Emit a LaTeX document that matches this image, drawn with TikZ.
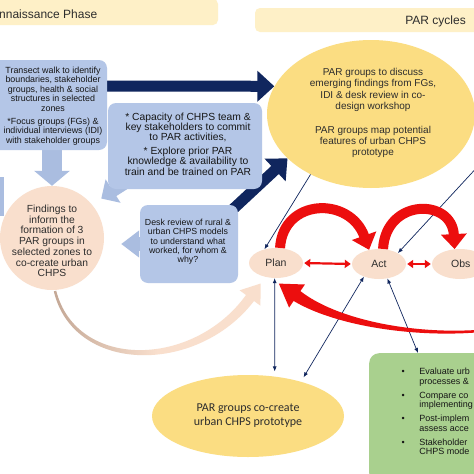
\documentclass[tikz,border=0pt]{standalone}
\usepackage{fontspec}
\setmainfont{Liberation Sans}
\newfontfamily\calib{Carlito}
\usetikzlibrary{arrows.meta,shapes.geometric,backgrounds}
\definecolor{bannerc}{RGB}{254,240,199}
\definecolor{boxblue}{RGB}{180,198,231}
\definecolor{arrblue}{RGB}{170,189,224}
\definecolor{navyc}{RGB}{16,38,94}
\definecolor{peachc}{RGB}{249,223,205}
\definecolor{peachdark}{RGB}{196,168,150}
\definecolor{yellc}{RGB}{251,221,130}
\definecolor{greenc}{RGB}{169,208,142}
\definecolor{redc}{RGB}{236,14,14}
\definecolor{txtc}{RGB}{22,22,22}
\definecolor{graytxt}{RGB}{45,45,45}
\begin{document}
\begin{tikzpicture}[x=1pt,y=-1pt,
  bluebox/.style={fill=boxblue, rounded corners=8pt, inner sep=0pt},
  bluetext/.style={align=center, inner sep=0pt, text=txtc, font=\fontsize{8.8}{9.3}\selectfont},
  peachell/.style={ellipse, fill=peachc, inner sep=0pt, text=graytxt, font=\fontsize{10.5}{12}\selectfont},
  navythick/.style={navyc, line width=11pt, -{Triangle[length=17pt,width=30pt]}},
  navythin/.style={navyc, line width=0.7pt},
  redarc/.style={redc, line width=10pt, -{Triangle[length=15pt,width=25pt]}},
  reddbl/.style={redc, line width=2.2pt, {Triangle[length=6pt,width=8pt]}-{Triangle[length=6pt,width=8pt]}, shorten <=1pt, shorten >=1pt}
]
\useasboundingbox (0,0) rectangle (474,474);
\clip (0,0) rectangle (474,474);

% banners
\node[fill=bannerc, rounded corners=5pt, minimum width=240pt, minimum height=26pt, inner sep=0pt] (ban1) at (98,12) {};
\node[anchor=west, inner sep=0pt, text=graytxt, font=\fontsize{12}{14}\selectfont] (ban1t) at (-1,14) {nnaissance Phase};
\node[fill=bannerc, rounded corners=5pt, minimum width=230pt, minimum height=24pt, inner sep=0pt] (ban2) at (370,20) {};
\node[anchor=east, inner sep=0pt, text=graytxt, font=\fontsize{12}{14}\selectfont] (ban2t) at (466,21) {PAR cycles};

% blue boxes
\node[bluebox, minimum width=117pt, minimum height=90pt] (box1) at (48.5,105) {};
\node[bluetext, font=\fontsize{8.9}{9.5}\selectfont] (box1t) at (53,106) {Transect walk to identify\\boundaries, stakeholder\\groups, health \& social\\structures in selected\\zones\\[3.5pt]*Focus groups (FGs) \&\\individual interviews (IDI)\\with stakeholder groups};

\node[bluebox, minimum width=154pt, minimum height=86pt] (cap) at (185,146) {};
\node[bluetext, font=\fontsize{10.3}{10.4}\selectfont] (capt) at (188,144) {* Capacity of CHPS team \&\\key stakeholders to commit\\to PAR activities,\\[3pt]* Explore prior PAR\\knowledge \& availability to\\train and be trained on PAR};

\node[bluebox, minimum width=98pt, minimum height=78pt] (desk) at (189,244) {};
\node[bluetext] (deskt) at (188,242) {Desk review of rural \&\\urban CHPS models\\to understand what\\worked, for whom \&\\why?};

% findings circle
\node[circle, fill=peachc, minimum size=104pt, inner sep=0pt] (find) at (52,238) {};
\node[align=center, inner sep=0pt, text=graytxt, font=\fontsize{10.3}{10.7}\selectfont] (findt) at (52,241) {Findings to\\inform the\\formation of 3\\PAR groups in\\selected zones to\\co-create urban\\CHPS};

% top ellipse
\node[ellipse, fill=yellc, minimum width=208pt, minimum height=148pt, inner sep=0pt] (top) at (371,114) {};
\node[align=center, inner sep=0pt, text=graytxt, font=\fontsize{10}{11.2}\selectfont] (topt) at (373,113) {PAR groups to discuss\\emerging findings from FGs,\\IDI \& desk review in co-\\design workshop\\[12.5pt]PAR groups map potential\\features of urban CHPS\\prototype};

% cycle ellipses
\node[peachell, minimum width=54pt, minimum height=30pt] (plan) at (276,263) {Plan};
\node[peachell, minimum width=54pt, minimum height=30pt] (act) at (379,264) {Act};
\node[peachell, minimum width=56pt, minimum height=30pt] (obs) at (460,264) {};
\node[anchor=west, inner sep=0pt, text=graytxt, font=\fontsize{10.5}{12}\selectfont] (obst) at (451,264) {Obs};

% bottom ellipse
\node[ellipse, fill=yellc, minimum width=192pt, minimum height=82pt, inner sep=0pt, align=center, text=graytxt, font=\calib\fontsize{12}{14}\selectfont] (bot) at (248,416) {PAR groups co-create\\urban CHPS prototype};

% green box
\node[fill=greenc, rounded corners=10pt, minimum width=130pt, minimum height=130pt, inner sep=0pt, anchor=north west] (green) at (369,353) {};
\node[anchor=north west, inner sep=0pt, text=txtc, font=\fontsize{9}{9.3}\selectfont] (greent) at (401.5,368) {%
\begin{tabular}{@{}l@{\hspace{14.6pt}}l@{}}
\textbullet & Evaluate urb\\
 & processes \&\\[5pt]
\textbullet & Compare co\\
 & implementing\\[5pt]
\textbullet & Post-implem\\
 & assess acce\\[5pt]
\textbullet & Stakeholder\\
 & CHPS mode
\end{tabular}};

\coordinate (offR) at (481,163);

\begin{pgfonlayer}{background}
  \fill[white] (0,0) rectangle (474,474);
  \fill[arrblue] (-10,177) rectangle (4,216);
  \draw[arrblue, line width=20pt, -{Triangle[length=15pt,width=35pt]}] (box1.south -| find.north) -- (find.north);
  \draw[arrblue, line width=12pt, -{Triangle[length=14pt,width=27pt]}, shorten >=11pt] ([xshift=16pt,yshift=5pt]cap.south west) -- (find.40);
  \draw[arrblue, line width=14pt, -{Triangle[length=18pt,width=26pt]}, shorten >=17pt] ([xshift=6pt]desk.west) -- (desk.west -| find.east);
  \shade[left color=peachdark, right color=peachc, middle color=peachc]
    (53.8,291.3) .. controls (73.5,374) and (196.8,375.6) .. (254,301)
    -- (260.4,305.7) -- (260.7,283.5) -- (239.6,290.3) -- (246,295)
    .. controls (193.2,368.4) and (76.5,370) .. (56.2,290.7) -- cycle;
  \draw[navythick] ([xshift=-6pt,yshift=19pt]box1.east) -- (top.164);
  \draw[navythick] ([xshift=-7pt,yshift=-6pt]desk.north east) -- (top.208);
\end{pgfonlayer}

% thin navy connectors
\draw[navythin, -{Latex[length=5pt,width=4pt]}] (top.225) -- (plan.130);
\draw[navythin, -{Latex[length=5pt,width=4pt]}] (offR) -- (act.30);
\draw[navythin, {Latex[length=5pt,width=4pt]}-{Latex[length=5pt,width=4pt]}, shorten >=5pt] (plan.265) -- (bot.56);
\draw[navythin, {Latex[length=5pt,width=4pt]}-{Latex[length=5pt,width=4pt]}, shorten >=5pt] (act.220) -- (bot.33);
\draw[navythin, {Latex[length=5pt,width=4pt]}-{Latex[length=5pt,width=4pt]}] (act.300) -- ([xshift=49pt]green.north west);

% red cycle arrows
\draw[redarc] (plan.75) .. controls (283,198) and (350,196) .. (act.125);
\draw[redarc] (act.75) .. controls (386,198) and (452,198) .. (obs.110);
\draw[reddbl] (plan.east) -- (act.west);
\draw[reddbl] (act.east) -- (obs.west);
\fill[redc] (475.9,330) .. controls (410.1,334) and (336.5,319.3) .. (300.4,291.1)
  -- (304.9,284.5) -- (278.9,283.6) -- (289.1,307.6) -- (293.6,300.9)
  .. controls (333.5,325) and (409.9,337.5) .. (476.1,332.5) -- cycle;
\end{tikzpicture}
\end{document}
